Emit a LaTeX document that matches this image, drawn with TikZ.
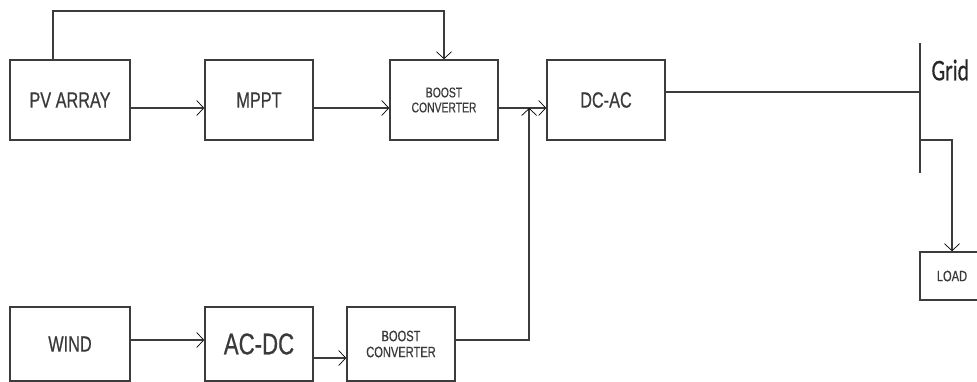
\documentclass[tikz,border=0pt]{standalone}
\usepackage{fontspec}
\setmainfont[FakeStretch=0.74, FakeBold=0.6]{Liberation Sans}
\newfontfamily\gridfont[FakeStretch=0.72, FakeBold=0.5]{Carlito}
\usepackage{tikz}
\usetikzlibrary{arrows.meta, positioning, calc}
\definecolor{linegray}{HTML}{3C3C3C}
\definecolor{textgray}{HTML}{3A3A3A}
\tikzset{
  block/.style={draw=linegray, line width=1.6pt, text=textgray, inner sep=0pt,
    minimum height=80pt, align=center},
  bigtext/.style={font=\fontsize{22}{24}\selectfont},
  smalltext/.style={font=\fontsize{14}{16}\selectfont},
  wire/.style={draw=linegray, line width=1.8pt},
  >={Straight Barb[length=7pt, width=15pt, line width=0.7pt, black]}
}

\begin{document}
\begin{tikzpicture}[x=1pt, y=-1pt]

  % Rahmen des Bildes
  \useasboundingbox (0,0) rectangle (977,381);
  \clip (0,0) rectangle (977,381);

  % obere Reihe: PV-Zweig
  \node[block, bigtext, minimum width=120pt] (pv)     at (70,100)  {PV ARRAY};
  \node[block, bigtext, minimum width=108pt] (mppt)   at (259,100) {MPPT};
  \node[block, smalltext, minimum width=108pt] (boostA) at (444,100) {BOOST\\[-1pt]CONVERTER};
  \node[block, bigtext, minimum width=118pt] (dcac)   at (606,100) {DC-AC};

  % untere Reihe: Wind-Zweig
  \node[block, font=\fontsize{22}{24}\selectfont, minimum width=120pt, minimum height=74pt] (wind) at (70,344) {WIND};
  \node[block, font=\fontsize{30}{32}\selectfont, minimum width=108pt, minimum height=74pt] (acdc) at (259,344) {AC-DC};
  \node[block, font=\fontsize{15}{17}\selectfont, minimum width=108pt, minimum height=74pt] (boostB) at (401,344) {BOOST\\[-1pt]CONVERTER};

  % Last rechts
  \node[block, font=\fontsize{15}{17}\selectfont, minimum width=64pt, minimum height=48pt] (load) at (952,276) {LOAD};

  % Netz-Sammelschiene
  \coordinate (gridtop) at (920,43);
  \coordinate (gridbot) at (920,173);
  \draw[wire, line width=1.5pt] (gridtop) -- (gridbot);
  \node[text=black!85, font=\gridfont\fontsize{30}{31}\selectfont, anchor=west] (grid) at (928,70) {Grid};

  % Pfeile obere Reihe
  \draw[wire, ->] ([yshift=-8pt]pv.east) -- ([yshift=-8pt]mppt.west);
  \draw[wire, ->] ([yshift=-8pt]mppt.east) -- ([yshift=-8pt]boostA.west);
  \draw[wire, ->] ([yshift=-8pt]boostA.east) -- ([yshift=-8pt]dcac.west);

  % Rueckfuehrung PV -> Boost
  \draw[wire, ->] ([xshift=-17pt]pv.north) |- ([yshift=48pt]boostA.north) -- (boostA.north);

  % Pfeile untere Reihe
  \draw[wire, ->] ([yshift=4pt]wind.east) -- ([yshift=4pt]acdc.west);
  \draw[wire, ->] ([yshift=-14pt]acdc.east) -- ([yshift=-14pt]boostB.west);

  % Boost unten hoch zum DC-AC
  \coordinate (jn) at ($(dcac.west)+(-17,8)$);
  \draw[wire, ->] ([yshift=4pt]boostB.east) -| (jn);

  % DC-AC zum Netz
  \draw[wire] ([yshift=8pt]dcac.east) -- ([yshift=8pt]dcac.east -| gridtop);

  % Abzweig zur Last
  \coordinate (tap) at (920,140);
  \draw[wire, ->] (tap) -| (load.north);

\end{tikzpicture}
\end{document}
